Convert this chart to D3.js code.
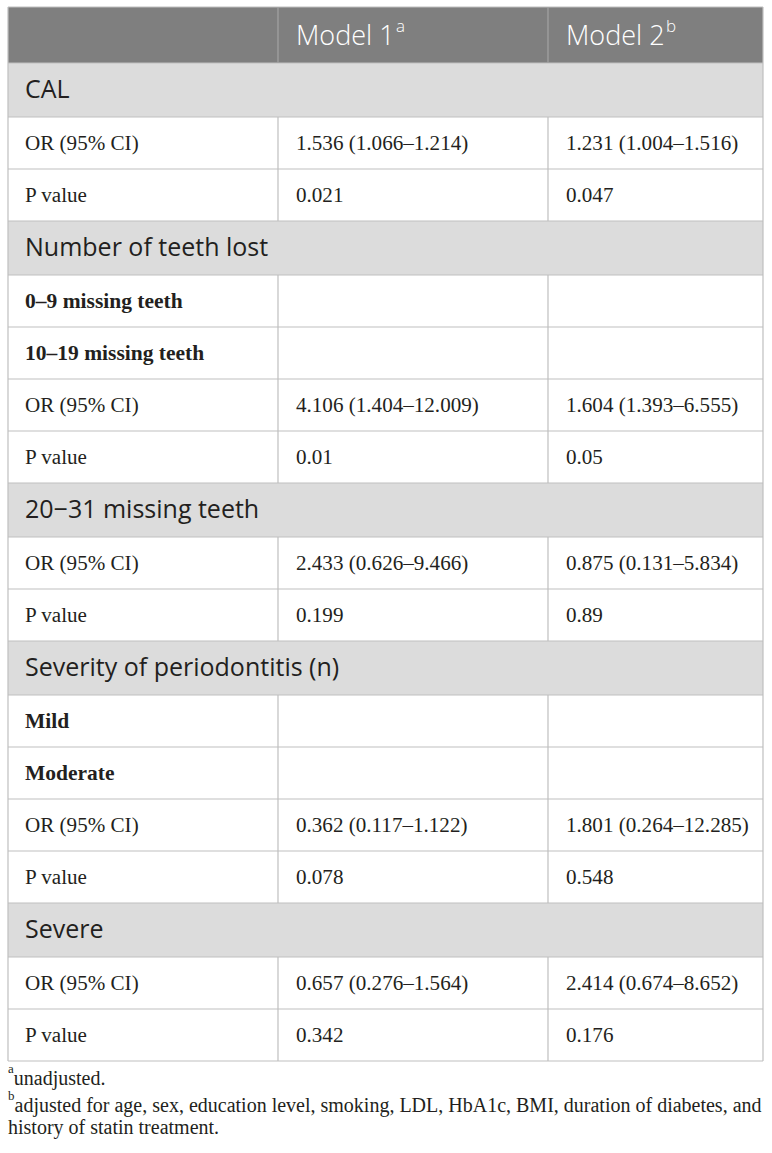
<!DOCTYPE html>
<html>
<head>
<meta charset="utf-8">
<script src="https://cdn.jsdelivr.net/npm/d3@7"></script>
<style>
  body { margin: 0; background: #fff; }
  svg { display: block; }
</style>
</head>
<body>
<svg width="772" height="1153"></svg>
<script>
// данные таблицы
const headers = ["", "Model 1", "Model 2"];
const headerSup = ["", "a", "b"];

const rowLabels = [
    "CAL", "OR (95% CI)", "P value",
    "Number of teeth lost", "0–9 missing teeth", "10–19 missing teeth", "OR (95% CI)", "P value",
    "20−31 missing teeth", "OR (95% CI)", "P value",
    "Severity of periodontitis (n)", "Mild", "Moderate", "OR (95% CI)", "P value",
    "Severe", "OR (95% CI)", "P value"
];
// s = секция, b = жирная подгруппа, d = строка данных
const rowTypes = [
    "s", "d", "d",
    "s", "b", "b", "d", "d",
    "s", "d", "d",
    "s", "b", "b", "d", "d",
    "s", "d", "d"
];
const model1 = [
    "", "1.536 (1.066–1.214)", "0.021",
    "", "", "", "4.106 (1.404–12.009)", "0.01",
    "", "2.433 (0.626–9.466)", "0.199",
    "", "", "", "0.362 (0.117–1.122)", "0.078",
    "", "0.657 (0.276–1.564)", "0.342"
];
const model2 = [
    "", "1.231 (1.004–1.516)", "0.047",
    "", "", "", "1.604 (1.393–6.555)", "0.05",
    "", "0.875 (0.131–5.834)", "0.89",
    "", "", "", "1.801 (0.264–12.285)", "0.548",
    "", "2.414 (0.674–8.652)", "0.176"
];
const footnotes = [
    { sup: "a", text: "unadjusted." },
    { sup: "b", text: "adjusted for age, sex, education level, smoking, LDL, HbA1c, BMI, duration of diabetes, and" },
    { sup: "", text: "history of statin treatment." }
];

// разметка
const svg = d3.select("svg");
const colX = [8, 278, 548, 763];
const tableTop = 7;
const headerH = 56;
const rowH = d3.scaleOrdinal().domain(["s", "b", "d"]).range([54, 52, 52]);
const fill = d3.scaleOrdinal().domain(["h", "s", "b", "d"]).range(["#7f7f7f", "#dcdcdc", "#ffffff", "#ffffff"]);
const fontSize = d3.scaleOrdinal().domain(["h", "s", "b", "d"]).range([27, 25, 21.5, 21.1]);
const dyByType = d3.scaleOrdinal().domain(["h", "s", "b", "d"]).range(["0.36em", "0.3em", "0.32em", "0.32em"]);
const borderColor = "#bfbfbf";
const textColor = "#231f20";
const padX = 17;

// накопленные позиции строк
let rows = [{ type: "h", y: tableTop, h: headerH, cells: headers, sup: headerSup }];
let y = tableTop + headerH;
rowLabels.forEach((label, i) => {
    const h = rowH(rowTypes[i]);
    rows.push({ type: rowTypes[i], y: y, h: h, cells: [label, model1[i], model2[i]] });
    y += h;
});
const tableBottom = y;

const g = svg.append("g");

// фон строк
g.selectAll("rect.row")
    .data(rows)
    .join("rect")
    .attr("class", "row")
    .attr("x", colX[0])
    .attr("y", d => d.y)
    .attr("width", colX[3] - colX[0])
    .attr("height", d => d.h)
    .attr("fill", d => fill(d.type));

// горизонтальные линии
g.selectAll("line.h")
    .data(rows.map(d => d.y).concat([tableBottom]))
    .join("line")
    .attr("class", "h")
    .attr("x1", colX[0])
    .attr("x2", colX[3])
    .attr("y1", d => d)
    .attr("y2", d => d)
    .attr("stroke", borderColor)
    .attr("stroke-width", 1.2);

// вертикальные линии: внешние во всю высоту, внутренние кроме секций
g.selectAll("line.outer")
    .data([colX[0], colX[3]])
    .join("line")
    .attr("class", "outer")
    .attr("x1", d => d).attr("x2", d => d)
    .attr("y1", tableTop).attr("y2", tableBottom)
    .attr("stroke", borderColor)
    .attr("stroke-width", 1.2);

const innerSegs = [];
rows.filter(r => r.type !== "s").forEach(r => {
    [colX[1], colX[2]].forEach(x => innerSegs.push({ x: x, y1: r.y, y2: r.y + r.h, head: r.type === "h" }));
});
g.selectAll("line.inner")
    .data(innerSegs)
    .join("line")
    .attr("class", "inner")
    .attr("x1", d => d.x).attr("x2", d => d.x)
    .attr("y1", d => d.y1).attr("y2", d => d.y2)
    .attr("stroke", d => d.head ? "#a3a3a3" : borderColor)
    .attr("stroke-width", 1.2);

// текст ячеек
const cells = [];
rows.forEach(r => {
    r.cells.forEach((c, j) => {
        if (c === "") return;
        if (r.type === "s" && j > 0) return;
        cells.push({ text: c, sup: r.sup ? r.sup[j] : "", x: colX[j] + padX + (j > 0 ? 1 : 0), y: r.y + r.h / 2, type: r.type });
    });
});

const txt = g.selectAll("text.cell")
    .data(cells)
    .join("text")
    .attr("class", "cell")
    .attr("x", d => d.x)
    .attr("y", d => d.y)
    .attr("dy", d => dyByType(d.type))
    .attr("fill", d => d.type === "h" ? "#ffffff" : textColor)
    .attr("font-family", d => (d.type === "h" || d.type === "s") ? "'Open Sans', sans-serif" : "'Liberation Serif', serif")
    .attr("font-size", d => fontSize(d.type))
    .attr("font-weight", d => d.type === "b" ? "bold" : (d.type === "h" ? 300 : "normal"));

txt.append("tspan").text(d => d.text);
txt.filter(d => d.sup)
    .append("tspan")
    .attr("font-size", 17)
    .attr("dx", 1.5)
    .attr("dy", "-0.75em")
    .text(d => d.sup);

// сноски
const fn = svg.selectAll("text.fn")
    .data(footnotes)
    .join("text")
    .attr("class", "fn")
    .attr("x", 8)
    .attr("y", (d, i) => tableBottom + 20 + i * 26.5)
    .attr("fill", textColor)
    .attr("font-family", "'Liberation Serif', serif")
    .attr("font-size", 20);

fn.filter(d => d.sup)
    .append("tspan")
    .attr("font-size", 13)
    .attr("dy", "-0.6em")
    .text(d => d.sup);
fn.append("tspan")
    .attr("dy", d => d.sup ? "0.6em" : 0)
    .text(d => d.text);
</script>
</body>
</html>
